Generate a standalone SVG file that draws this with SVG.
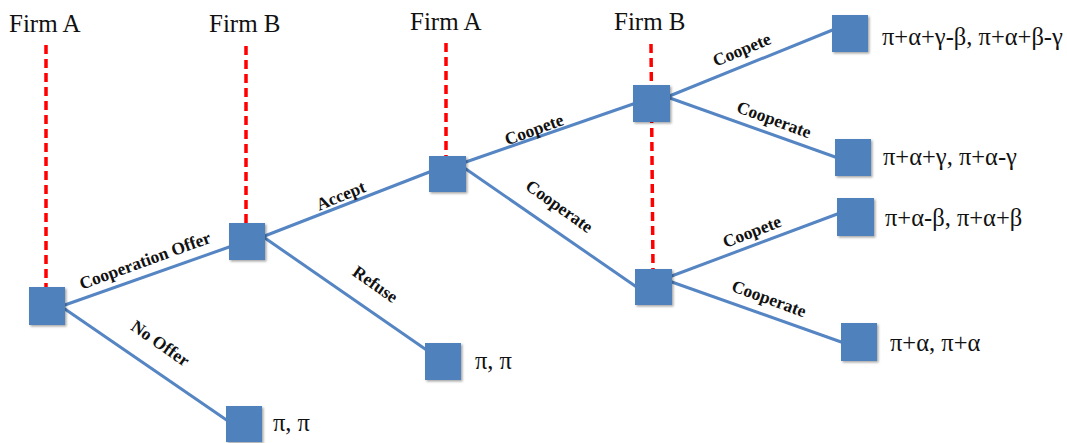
<svg xmlns="http://www.w3.org/2000/svg" width="1067" height="443" viewBox="0 0 1067 443">
<defs>
<filter id="sh" x="-20%" y="-20%" width="150%" height="150%">
<feDropShadow dx="1.5" dy="1.5" stdDeviation="1.2" flood-color="#000" flood-opacity="0.35"/>
</filter>
<style>
.node{fill:#4F81BD;filter:url(#sh)}
.edge{stroke:#5585C3;stroke-width:3;fill:none}
.info{stroke:#FF0000;stroke-width:3.5;stroke-dasharray:9 5;fill:none}
.title{font-family:"Liberation Serif","Times New Roman",serif;font-size:25px;fill:#111}
.lbl{font-family:"Liberation Serif","Times New Roman",serif;font-size:17.5px;font-weight:bold;fill:#111;text-anchor:middle}
.pay{font-family:"Liberation Serif","Times New Roman",serif;font-size:24.5px;fill:#111}
</style>
</defs>
<rect width="1067" height="443" fill="#fff"/>
<g id="titles">
<text class="title" x="9" y="32">Firm A</text>
<text class="title" x="209" y="32">Firm B</text>
<text class="title" x="410" y="30">Firm A</text>
<text class="title" x="614" y="30">Firm B</text>
</g>
<g id="info-sets">
<line class="info" x1="46" y1="45" x2="46" y2="288"/>
<line class="info" x1="246" y1="46" x2="246" y2="224"/>
<line class="info" x1="446" y1="43" x2="446" y2="157"/>
<line class="info" x1="651" y1="44" x2="653" y2="270"/>
</g>
<g id="connectors">
<line class="edge" x1="62" y1="306" x2="232" y2="246"/>
<line class="edge" x1="62" y1="307" x2="228" y2="421"/>
<line class="edge" x1="262" y1="237" x2="432" y2="171"/>
<line class="edge" x1="262" y1="236" x2="428" y2="351"/>
<line class="edge" x1="463" y1="163" x2="636" y2="103"/>
<line class="edge" x1="463" y1="167" x2="638" y2="288"/>
<line class="edge" x1="667" y1="97" x2="835" y2="29"/>
<line class="edge" x1="667" y1="97" x2="838" y2="158"/>
<line class="edge" x1="669" y1="277" x2="840" y2="213"/>
<line class="edge" x1="669" y1="281" x2="844" y2="343"/>
</g>
<g id="edge-labels">
<text class="lbl" transform="translate(147,266) rotate(-20)">Cooperation Offer</text>
<text class="lbl" transform="translate(157,348) rotate(35)">No Offer</text>
<text class="lbl" transform="translate(343,201) rotate(-22)">Accept</text>
<text class="lbl" transform="translate(372,289) rotate(35)">Refuse</text>
<text class="lbl" transform="translate(536,135) rotate(-20)">Coopete</text>
<text class="lbl" transform="translate(556,211) rotate(35.5)">Cooperate</text>
<text class="lbl" transform="translate(744,55) rotate(-22.5)">Coopete</text>
<text class="lbl" transform="translate(772,125) rotate(20)">Cooperate</text>
<text class="lbl" transform="translate(754,237) rotate(-21)">Coopete</text>
<text class="lbl" transform="translate(767,304) rotate(20)">Cooperate</text>
</g>
<g id="n-root"><rect class="node" x="29" y="287" width="36" height="38"/></g>
<g id="n-firmB1"><rect class="node" x="229" y="223" width="36" height="37"/></g>
<g id="n-firmA2"><rect class="node" x="429" y="156" width="37" height="36"/></g>
<g id="n-firmB2-up"><rect class="node" x="633" y="85" width="37" height="37"/></g>
<g id="n-firmB2-low"><rect class="node" x="635" y="269" width="37" height="36"/></g>
<g id="t-nooffer"><rect class="node" x="226" y="406" width="36" height="36"/><text class="pay" x="273" y="431">π, π</text></g>
<g id="t-refuse"><rect class="node" x="425" y="343" width="36" height="37"/><text class="pay" x="475" y="369">π, π</text></g>
<g id="t-1"><rect class="node" x="832" y="15" width="36" height="37"/><text class="pay" x="882" y="45">π+α+γ-β, π+α+β-γ</text></g>
<g id="t-2"><rect class="node" x="835" y="139" width="36" height="37"/><text class="pay" x="883" y="165">π+α+γ, π+α-γ</text></g>
<g id="t-3"><rect class="node" x="837" y="198" width="37" height="38"/><text class="pay" x="885" y="226">π+α-β, π+α+β</text></g>
<g id="t-4"><rect class="node" x="841" y="323" width="36" height="38"/><text class="pay" x="890" y="351">π+α, π+α</text></g>
</svg>
